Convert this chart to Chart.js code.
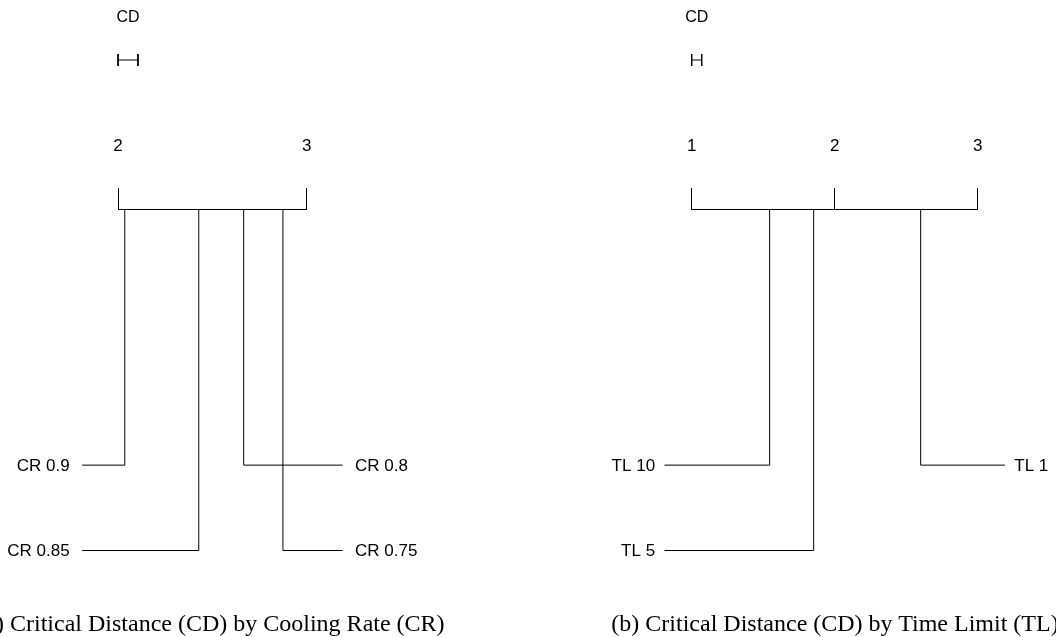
<!DOCTYPE html>
<html>
<head>
<meta charset="utf-8">
<script src="https://cdn.jsdelivr.net/npm/chart.js@4/dist/chart.umd.min.js"></script>
<style>
  html, body { margin: 0; padding: 0; background: #ffffff; }
  #wrap { position: relative; width: 1056px; height: 637px; overflow: hidden; background: #fff; }
  .panel { position: absolute; top: 0; width: 528px; height: 637px; }
  .panel canvas { display: block; }
  .caption { position: absolute; top: 611px; width: 700px; text-align: center; white-space: nowrap;
             font-family: "Liberation Serif", "Times New Roman", serif; font-size: 24px; line-height: 24px; color: #000; }
</style>
</head>
<body>
<div id="wrap">
  <div class="panel" style="left:0px"><canvas id="chartCR" width="528" height="637" style="width:528px;height:637px"></canvas></div>
  <div class="panel" style="left:528px"><canvas id="chartTL" width="528" height="637" style="width:528px;height:637px"></canvas></div>
  <div class="caption" id="capA" style="left:-139px">(a) Critical Distance (CD) by Cooling Rate (CR)</div>
  <div class="caption" id="capB" style="left:485px">(b) Critical Distance (CD) by Time Limit (TL)</div>
</div>
<script>
// ---------------- data ----------------
const crMethods = ['CR 0.9', 'CR 0.85', 'CR 0.8', 'CR 0.75'];
const crRanks   = [2.036, 2.428, 2.666, 2.874];
const crTicks   = [2, 3];
const crCD      = 0.106;

const tlMethods = ['TL 10', 'TL 5', 'TL 1'];
const tlRanks   = [1.545, 1.853, 2.601];
const tlTicks   = [1, 2, 3];
const tlCD      = 0.07;

// ---------------- layout (not data) ----------------
const SANS = '"Liberation Sans", Arial, Helvetica, sans-serif';
const FIRST_ROW = 3;       // y-level of first label row (axis at 0, reversed)
const STUB = 0.19;         // how far label lines extend beyond axis ends (rank units)
const GAP = 0.066;         // gap between line end and label (rank units)
const CD_LEVEL = -1.745;   // y-level of the CD bar
const CD_CAP = 0.07;       // half height of CD bar end caps
const CD_TEXT_LEVEL = -2.24;

function lineDs(points) {
  return {
    data: points,
    showLine: true,
    borderColor: '#000',
    borderWidth: 1,
    pointRadius: 0,
    pointHoverRadius: 0,
    fill: false,
    tension: 0,
    clip: false
  };
}

const labelPlugin = {
  id: 'cdLabels',
  afterDatasetsDraw(chart, args, opts) {
    const { ctx } = chart;
    const x = chart.scales.x, y = chart.scales.y;
    ctx.save();
    ctx.fillStyle = '#000';
    ctx.textBaseline = 'middle';
    ctx.font = '17px ' + SANS;
    opts.items.forEach(it => {
      ctx.textAlign = it.side === 'left' ? 'right' : 'left';
      ctx.fillText(it.text, x.getPixelForValue(it.x), y.getPixelForValue(it.y) + 1);
    });
    ctx.font = '16px ' + SANS;
    ctx.textAlign = 'center';
    ctx.fillText('CD', x.getPixelForValue(opts.cdMid), y.getPixelForValue(CD_TEXT_LEVEL));
    ctx.restore();
  }
};

function buildPanel(canvasId, methods, ranks, ticks, cd, padLeft, padRight) {
  const lo = ticks[0], hi = ticks[ticks.length - 1];
  const order = ranks.map((r, i) => i).sort((a, b) => ranks[a] - ranks[b]);
  const nLeft = Math.ceil(order.length / 2);
  const datasets = [];
  const items = [];
  order.forEach((idx, k) => {
    const left = k < nLeft;
    const row = FIRST_ROW + (left ? k : k - nLeft);
    const end = left ? lo - STUB : hi + STUB;
    datasets.push(lineDs([{ x: end, y: row }, { x: ranks[idx], y: row }, { x: ranks[idx], y: 0 }]));
    items.push({ text: methods[idx], x: left ? end - GAP : end + GAP, y: row, side: left ? 'left' : 'right' });
  });
  // CD bar with end caps
  datasets.push(lineDs([{ x: lo, y: CD_LEVEL }, { x: lo + cd, y: CD_LEVEL }]));
  datasets.push(lineDs([{ x: lo, y: CD_LEVEL - CD_CAP }, { x: lo, y: CD_LEVEL + CD_CAP }]));
  datasets.push(lineDs([{ x: lo + cd, y: CD_LEVEL - CD_CAP }, { x: lo + cd, y: CD_LEVEL + CD_CAP }]));

  return new Chart(document.getElementById(canvasId), {
    type: 'scatter',
    data: { datasets },
    plugins: [labelPlugin],
    options: {
      responsive: false,
      animation: false,
      devicePixelRatio: 1,
      layout: { padding: { left: padLeft, right: padRight, top: 0, bottom: 86.5 } },
      plugins: {
        legend: { display: false },
        tooltip: { enabled: false },
        cdLabels: { items, cdMid: lo + cd / 2 }
      },
      events: [],
      scales: {
        x: {
          type: 'linear',
          position: 'top',
          min: lo,
          max: hi,
          afterBuildTicks: s => { s.ticks = ticks.map(v => ({ value: v })); },
          afterFit: s => { s.height = 209; },
          grid: { drawOnChartArea: false, drawTicks: true, tickLength: 21, color: '#000', lineWidth: 1 },
          border: { display: true, color: '#000', width: 1 },
          ticks: {
            color: '#000',
            font: { family: SANS, size: 17, lineHeight: 1.2 },
            padding: 31,
            maxRotation: 0,
            autoSkip: false,
            callback: v => String(v)
          }
        },
        y: {
          type: 'linear',
          display: false,
          reverse: true,
          min: 0,
          max: 4
        }
      }
    }
  });
}

buildPanel('chartCR', crMethods, crRanks, crTicks, crCD, 118, 528 - 306.7);
buildPanel('chartTL', tlMethods, tlRanks, tlTicks, tlCD, 691.7 - 528, 528 - (977.7 - 528));
</script>
</body>
</html>
